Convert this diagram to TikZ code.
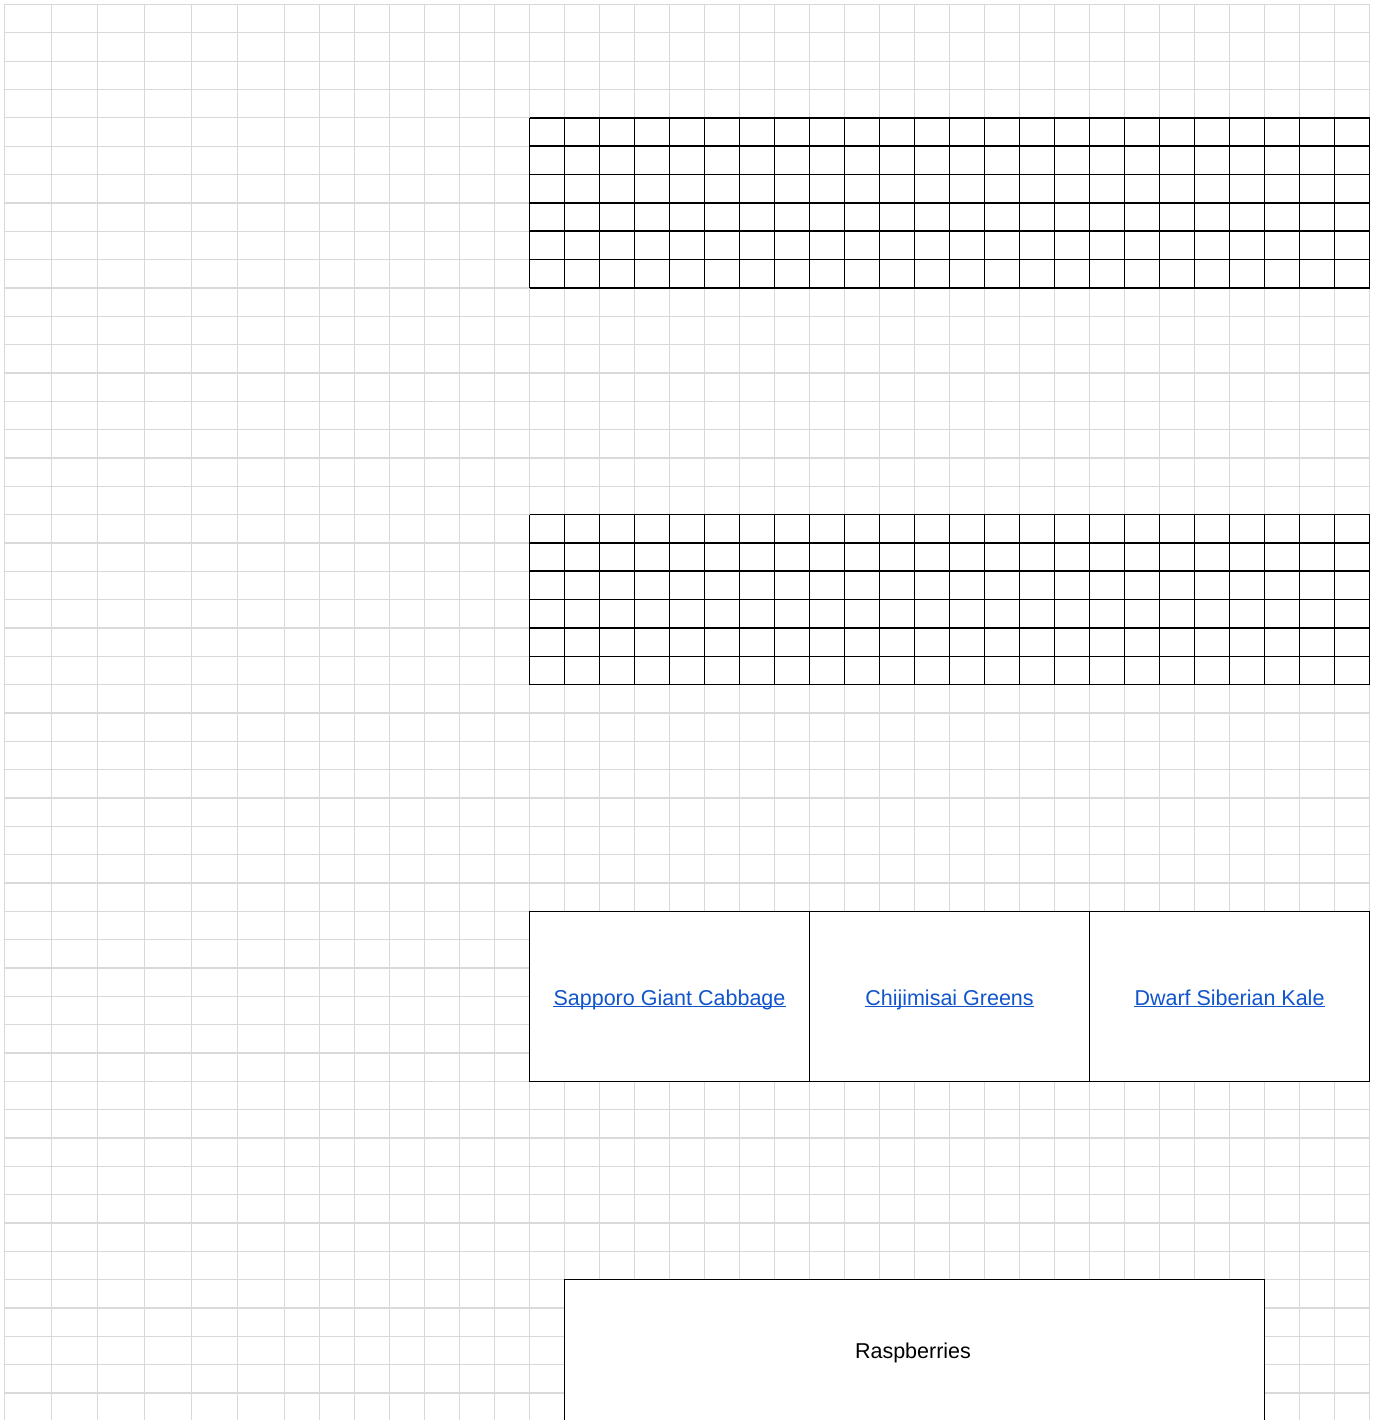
\documentclass[tikz,border=0pt]{standalone}
\usepackage{fontspec}
\setmainfont{Liberation Sans}
\definecolor{gridgray}{HTML}{D9D9D9}
\definecolor{linkblue}{HTML}{1155CC}
\begin{document}
\begin{tikzpicture}[x=1pt,y=-1pt,
  gridline/.style={draw=gridgray, line width=1.3pt},
  blackline/.style={draw=black, line width=1.5pt},
  plotbox/.style={draw=black, fill=white, line width=1.5pt, inner sep=0pt, outer sep=0pt},
  linktext/.style={text=linkblue, inner sep=0pt, font=\fontsize{21.5}{25}\selectfont},
  plaintext/.style={text=black, inner sep=0pt, font=\fontsize{21.5}{25}\selectfont},
  underl/.style={draw=linkblue, line width=1.4pt}]
\useasboundingbox (0,0) rectangle (1373,1420);
\clip (0,0) rectangle (1373,1420);
\fill[white] (0,0) rectangle (1373,1420);
% light background grid
\foreach \k in {0,...,49}
  \draw[gridline] (4.5,{4.5+28.337*\k}) -- (1369.5,{4.5+28.337*\k});
\foreach \i in {0,...,6}
  \draw[gridline] ({4.5+46.667*\i},4.5) -- ({4.5+46.667*\i},1420);
\foreach \i in {1,...,31}
  \draw[gridline] ({284.5+35*\i},4.5) -- ({284.5+35*\i},1420);
% black grids
\foreach \base in {4,18}{
  \foreach \k in {0,...,6}
    \draw[blackline] (529.5,{4.5+28.337*(\base+\k)}) -- (1369.5,{4.5+28.337*(\base+\k)});
  \foreach \i in {0,...,24}
    \draw[blackline] ({529.5+35*\i},{4.5+28.337*\base}) -- ({529.5+35*\i},{4.5+28.337*(\base+6)});
}
% boxes
\node[plotbox, minimum width=280pt, minimum height=170pt] (sap) at (669.5,996.3) {};
\node[plotbox, minimum width=280pt, minimum height=170pt] (chi) at (949.5,996.3) {};
\node[plotbox, minimum width=280pt, minimum height=170pt] (dwa) at (1229.5,996.3) {};
\node[plotbox, minimum width=700pt, minimum height=300pt, anchor=north west] (rasp) at (564.5,1279.67) {};
% texts
\node[linktext, anchor=base] (saptxt) at (669.5,1005) {Sapporo Giant Cabbage};
\node[linktext, anchor=base] (chitxt) at (949.5,1005) {Chijimisai Greens};
\node[linktext, anchor=base] (dwatxt) at (1229.5,1005) {Dwarf Siberian Kale};
\draw[underl] ([yshift=-1.6pt]saptxt.base west) -- ([yshift=-1.6pt]saptxt.base east);
\draw[underl] ([yshift=-1.6pt]chitxt.base west) -- ([yshift=-1.6pt]chitxt.base east);
\draw[underl] ([yshift=-1.6pt]dwatxt.base west) -- ([yshift=-1.6pt]dwatxt.base east);
\node[plaintext, anchor=base] (rasptxt) at (913,1358) {Raspberries};
\end{tikzpicture}
\end{document}
